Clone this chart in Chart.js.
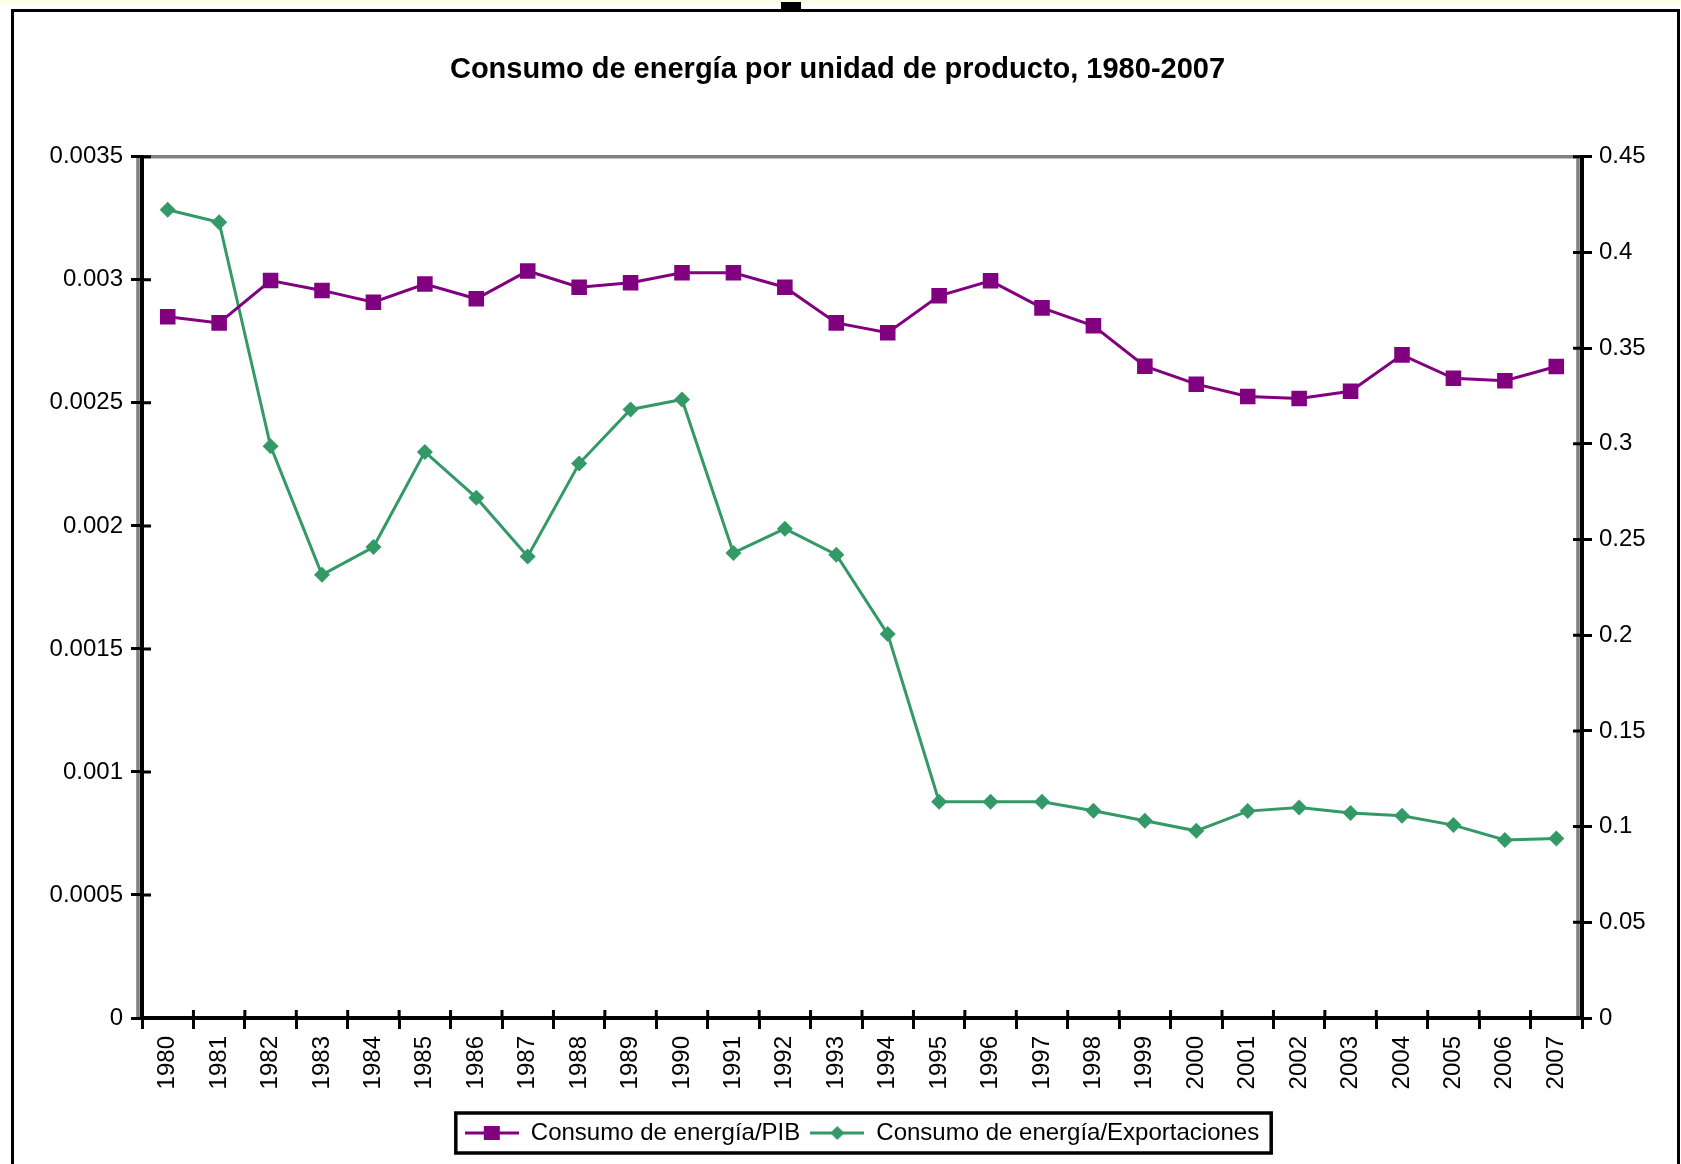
<!DOCTYPE html>
<html>
<head>
<meta charset="utf-8">
<title>Consumo de energía por unidad de producto</title>
<script src="https://cdn.jsdelivr.net/npm/chart.js@4.4.1/dist/chart.umd.min.js"></script>
<style>
  html, body { margin: 0; padding: 0; background: #fff; }
  body { width: 1681px; height: 1164px; position: relative; overflow: hidden; }
  .strip { position: absolute; left: 0; top: 0; width: 1681px; height: 3px; background: #ffffe0; }
  .handle { position: absolute; left: 781px; top: 2px; width: 20px; height: 7px; background: #000; }
  .frame { position: absolute; left: 11px; top: 9px; width: 1663px; height: 1200px; border: 3px solid #000; }
  #wrap { position: absolute; left: 0; top: 0; width: 1681px; height: 1164px; }
</style>
</head>
<body>
<div class="strip"></div>
<div class="handle"></div>
<div class="frame"></div>
<div id="wrap"><canvas id="chart"></canvas></div>
<script>
// Data

const years = ["1980", "1981", "1982", "1983", "1984", "1985", "1986", "1987", "1988", "1989",
    "1990", "1991", "1992", "1993", "1994", "1995", "1996", "1997", "1998", "1999",
    "2000", "2001", "2002", "2003", "2004", "2005", "2006", "2007"];

// Consumo de energía/PIB (eje izquierdo)
const energiaPIB = [0.00285, 0.002825, 0.002997, 0.002957, 0.002909, 0.002983, 0.002923, 0.003036,
    0.00297, 0.002988, 0.003029, 0.003029, 0.00297, 0.002825, 0.002785, 0.002935, 0.002996, 0.002886,
    0.002813, 0.002649, 0.002576, 0.002526, 0.002518, 0.002547, 0.002695, 0.0026, 0.00259, 0.002648];

// Consumo de energía/Exportaciones (eje derecho)
const energiaExport = [0.4223, 0.4158, 0.2988, 0.2316, 0.2461, 0.2958, 0.2719, 0.2412, 0.2897, 0.318,
    0.3232, 0.243, 0.2557, 0.2421, 0.2006, 0.113, 0.113, 0.113, 0.1083, 0.1031,
    0.0978, 0.1081, 0.11, 0.1071, 0.1057, 0.1008, 0.093, 0.0938];

const leftTicks = ["0", "0.0005", "0.001", "0.0015", "0.002", "0.0025", "0.003", "0.0035"];
const rightTicks = ["0", "0.05", "0.1", "0.15", "0.2", "0.25", "0.3", "0.35", "0.4", "0.45"];

const purple = "#800080";
const green = "#339966";

Chart.defaults.font.family = "'Liberation Sans', Arial, sans-serif";
Chart.defaults.color = "#000";

// legend icon: line + marker, like Excel
function legendIcon(color, style) {
    const c = document.createElement("canvas");
    c.width = 54;
    c.height = 24;
    const g = c.getContext("2d");
    g.strokeStyle = color;
    g.lineWidth = 3;
    g.beginPath();
    g.moveTo(0, 12);
    g.lineTo(54, 12);
    g.stroke();
    g.fillStyle = color;
    if (style === "rect") {
        g.fillRect(19, 5, 16, 14);
    } else {
        g.beginPath();
        g.moveTo(27, 5);
        g.lineTo(34, 12);
        g.lineTo(27, 19);
        g.lineTo(20, 12);
        g.closePath();
        g.fill();
    }
    return c;
}

// plot frame (grey), inner tick halves and legend box
const excelLook = {
    id: "excelLook",
    beforeDraw(chart) {
        const { ctx, chartArea: a } = chart;
        ctx.save();
        ctx.strokeStyle = "#808080";
        ctx.lineWidth = 3.5;
        ctx.beginPath();
        ctx.moveTo(a.left - 4, a.bottom);
        ctx.lineTo(a.left - 4, a.top);
        ctx.lineTo(a.right - 2, a.top);
        ctx.moveTo(a.right - 4, a.top);
        ctx.lineTo(a.right - 4, a.bottom);
        ctx.stroke();
        ctx.restore();
    },
    afterDraw(chart) {
        const { ctx, chartArea: a, scales } = chart;
        ctx.save();
        ctx.strokeStyle = "#000";
        ctx.lineWidth = 3;
        ctx.beginPath();
        scales.y.ticks.forEach(t => {
            const y = scales.y.getPixelForValue(t.value);
            ctx.moveTo(a.left, y);
            ctx.lineTo(a.left + 9, y);
        });
        scales.y1.ticks.forEach(t => {
            const y = scales.y1.getPixelForValue(t.value);
            ctx.moveTo(a.right - 9, y);
            ctx.lineTo(a.right, y);
        });
        for (let i = 0; i <= years.length; i++) {
            const x = scales.x.getPixelForValue(i - 0.5);
            ctx.moveTo(x, a.bottom - 8);
            ctx.lineTo(x, a.bottom);
        }
        ctx.stroke();

        // legend border
        const boxes = chart.legend.legendHitBoxes;
        if (boxes && boxes.length) {
            const first = boxes[0];
            const last = boxes[boxes.length - 1];
            const left = first.left - 9;
            const right = last.left + last.width + 12;
            const top = first.top - 8;
            const bottom = first.top + first.height + 8;
            ctx.lineWidth = 3.5;
            ctx.strokeRect(left, top, right - left, bottom - top);
        }
        ctx.restore();
    }
};

const chart = document.querySelector("#chart").getContext("2d");

new Chart(chart, {
    type: "line",
    data: {
        labels: years,
        datasets: [
            {
                label: "Consumo de energía/PIB",
                data: energiaPIB,
                yAxisID: "y",
                borderColor: purple,
                backgroundColor: purple,
                borderWidth: 3,
                pointStyle: "rect",
                pointRadius: 11,
                pointBorderWidth: 0,
                tension: 0,
            },
            {
                label: "Consumo de energía/Exportaciones",
                data: energiaExport,
                yAxisID: "y1",
                borderColor: green,
                backgroundColor: green,
                borderWidth: 3,
                pointStyle: "rectRot",
                pointRadius: 8,
                pointBorderWidth: 0,
                tension: 0,
            },
        ]
    },
    options: {
        responsive: true,
        maintainAspectRatio: false,
        animation: false,
        devicePixelRatio: 1,
        layout: { padding: { left: 12, right: 18, top: 8, bottom: 9 } },
        plugins: {
            title: {
                display: true,
                text: "Consumo de energía por unidad de producto, 1980-2007",
                color: "#000",
                font: { size: 29, weight: "bold" },
                padding: { top: 45, bottom: 69 },
            },
            legend: {
                position: "bottom",
                fullSize: false,
                labels: {
                    usePointStyle: true,
                    pointStyleWidth: 54,
                    padding: 10,
                    color: "#000",
                    font: { size: 24 },
                    generateLabels: c => c.data.datasets.map((ds, i) => ({
                        text: ds.label,
                        pointStyle: legendIcon(ds.borderColor, ds.pointStyle),
                        fillStyle: ds.borderColor,
                        strokeStyle: ds.borderColor,
                        lineWidth: 0,
                        fontColor: "#000",
                        hidden: false,
                        datasetIndex: i,
                    })),
                },
            },
            tooltip: { enabled: false },
        },
        scales: {
            x: {
                offset: true,
                grid: { offset: true, drawOnChartArea: false, color: "#000", lineWidth: 3, tickLength: 11 },
                border: { color: "#000", width: 4 },
                ticks: { minRotation: 90, maxRotation: 90, padding: 7, autoSkip: false, font: { size: 24 } },
                afterFit: s => { s.height = 93; },
            },
            y: {
                position: "left",
                min: 0,
                max: 0.0035,
                grid: { drawOnChartArea: false, color: "#000", lineWidth: 3, tickLength: 11 },
                border: { color: "#000", width: 4 },
                ticks: { stepSize: 0.0005, padding: 8, font: { size: 24 }, callback: (v, i) => leftTicks[i] },
                afterFit: s => { s.width = 130; },
            },
            y1: {
                position: "right",
                min: 0,
                max: 0.45,
                grid: { drawOnChartArea: false, color: "#000", lineWidth: 3, tickLength: 10 },
                border: { color: "#000", width: 4 },
                ticks: { stepSize: 0.05, padding: 7, font: { size: 24 }, callback: (v, i) => rightTicks[i] },
                afterFit: s => { s.width = 81; },
            },
        },
    },
    plugins: [excelLook],
});
</script>
</body>
</html>
